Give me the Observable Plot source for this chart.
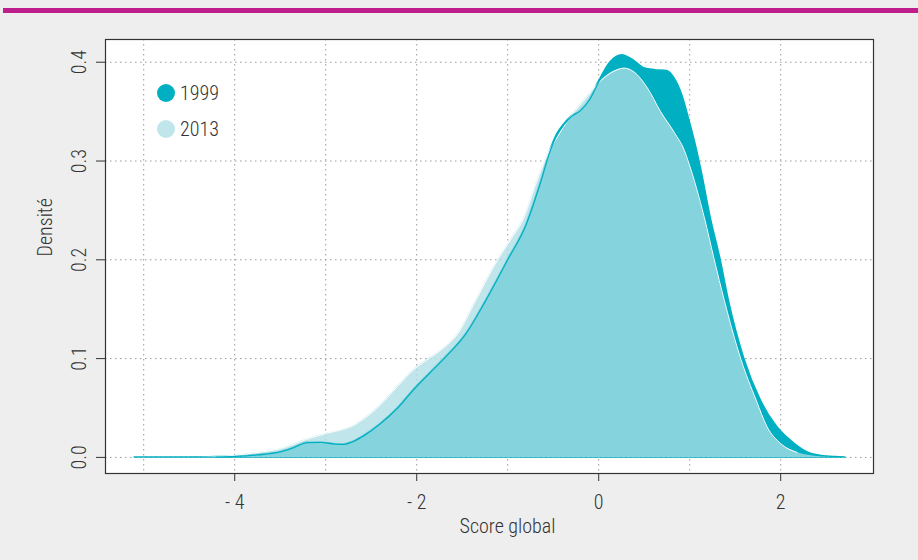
<!DOCTYPE html>
<html><head><meta charset="utf-8">
<script src="https://cdn.jsdelivr.net/npm/d3@7"></script>
<script src="https://cdn.jsdelivr.net/npm/@observablehq/plot@0.6"></script>
<style>
body{margin:0;background:#eeeeee;font-family:"Roboto Condensed","Liberation Sans Narrow","Arial Narrow",Roboto,sans-serif;font-weight:300}
#wrap{position:relative;width:918px;height:560px;overflow:hidden;background:#eeeeee}
#bar{position:absolute;left:3px;right:0;top:8px;height:5px;background:#BE1E8C}
#chart{position:absolute;left:0;top:0}
.lg{position:absolute;left:157px;display:flex;align-items:center;font-size:20px;color:#333;height:20px}
.lg span.dot{width:18px;height:18px;border-radius:50%;margin-right:5px;display:inline-block}
</style></head>
<body>
<div id="wrap"><div id="chart"></div><div id="bar"></div><div id="legend"></div></div>
<script>
const scores1999 = [-5.10,-4.5,-4.2,-4.0,-3.75,-3.5,-3.35,-3.2,-3.05,-2.9,-2.8,-2.7,-2.58,-2.4,-2.21,-2.03,-1.85,-1.70,-1.46,-1.24,-1.0,-0.8,-0.64,-0.53,-0.45,-0.38,-0.30,-0.20,-0.10,0.0,0.13,0.26,0.38,0.50,0.62,0.75,0.83,0.92,1.0,1.07,1.13,1.23,1.34,1.43,1.60,1.78,1.96,2.15,2.29,2.45,2.6,2.71];
const dens1999 = [0,0,0.0004,0.001,0.0025,0.0055,0.010,0.0150,0.0152,0.0135,0.0132,0.016,0.022,0.034,0.050,0.069,0.086,0.100,0.125,0.159,0.200,0.235,0.278,0.311,0.328,0.337,0.345,0.351,0.362,0.380,0.400,0.407,0.402,0.394,0.392,0.391,0.384,0.366,0.340,0.315,0.290,0.243,0.200,0.159,0.100,0.058,0.031,0.014,0.0054,0.0015,0.0003,0];
const scores2013 = [-4.47,-4.2,-4.0,-3.75,-3.5,-3.22,-2.98,-2.82,-2.7,-2.58,-2.40,-2.21,-2.03,-1.85,-1.70,-1.55,-1.35,-1.11,-0.97,-0.82,-0.69,-0.56,-0.45,-0.34,-0.12,0.02,0.17,0.28,0.39,0.535,0.68,0.83,0.94,0.99,1.16,1.27,1.38,1.56,1.73,1.85,2.0,2.18,2.35,2.57];
const dens2013 = [0,0.0008,0.002,0.005,0.0088,0.018,0.0246,0.028,0.032,0.039,0.053,0.072,0.089,0.101,0.111,0.125,0.159,0.200,0.220,0.243,0.277,0.307,0.325,0.341,0.366,0.381,0.391,0.394,0.390,0.374,0.350,0.329,0.311,0.298,0.243,0.200,0.159,0.100,0.058,0.031,0.014,0.005,0.0015,0];
const series = ["1999","2013"];
const seriesColors = ["#00B0C2","#ADDDE5"];
const legendColors = ["#00B0C2","#C0E5EB"];
const xTicks = [-4,-2,0,2];
const xGrid = [-5,-4,-3,-2,-1,0,1,2];
const yTicks = [0,0.1,0.2,0.3,0.4];
const xLabel = "Score global";
const yLabel = "Densité";

const d99 = scores1999.map((x,i)=>({x, y:dens1999[i]}));
const d13 = scores2013.map((x,i)=>({x, y:dens2013[i]}));
const font = '"Roboto Condensed","Liberation Sans Narrow","Arial Narrow",Roboto,sans-serif';
const c99 = seriesColors[0], c13 = seriesColors[1];
const curve = "monotone-x";

const plot = Plot.plot({
  width: 918, height: 560,
  marginLeft: 105, marginRight: 45, marginTop: 39, marginBottom: 87,
  style: {background: "transparent", fontFamily: font, fontSize: "20px", fontWeight: 300, color: "#333"},
  x: {domain: [-5.42, 3.02]},
  y: {domain: [-0.0163, 0.423]},
  marks: [
    Plot.frame({fill: "white"}),
    Plot.ruleX(xGrid, {stroke: "#999", strokeDasharray: "1.5,3.5"}),
    Plot.ruleY(yTicks, {stroke: "#999", strokeDasharray: "1.5,3.5"}),
    Plot.areaY(d99, {x: "x", y: "y", fill: c99, stroke: c99, strokeWidth: 1.5, curve}),
    Plot.areaY(d13, {x: "x", y: "y", fill: c13, fillOpacity: 0.77, curve}),
    Plot.line(d13, {x: "x", y: "y", stroke: "white", strokeWidth: 1, curve, filter: d => d.x > -4.3 && d.x < 2.3}),
    Plot.line(d99, {x: "x", y: "y", stroke: c99, strokeWidth: 1.3, curve, filter: d => d.x > -4.25 && d.x < 0.2}),
    Plot.frame({stroke: "#333", strokeWidth: 1.2}),
    Plot.axisX(xTicks, {tickSize: 8, tickPadding: 13, fontSize: 20, stroke: "#333", tickFormat: d => d < 0 ? "- " + Math.abs(d) : String(d), label: null}),
    Plot.axisY(yTicks, {tickSize: 9, tickPadding: 11, tickRotate: -90, fontSize: 20, stroke: "#333", tickFormat: d => d.toFixed(1), label: null}),
    Plot.text([xLabel], {frameAnchor: "bottom", dx: 18, dy: 59, fontSize: 20, fill: "#333"}),
    Plot.text([yLabel], {frameAnchor: "left", dx: -60, rotate: -90, fontSize: 20, fill: "#333"})
  ]
});
document.getElementById("chart").appendChild(plot);

const lg = document.getElementById("legend");
series.forEach((s, i) => {
  const el = document.createElement("div");
  el.className = "lg";
  el.style.top = (83 + i * 36) + "px";
  el.innerHTML = `<span class="dot" style="background:${legendColors[i]}"></span><span>${s}</span>`;
  lg.appendChild(el);
});
</script>
</body></html>
